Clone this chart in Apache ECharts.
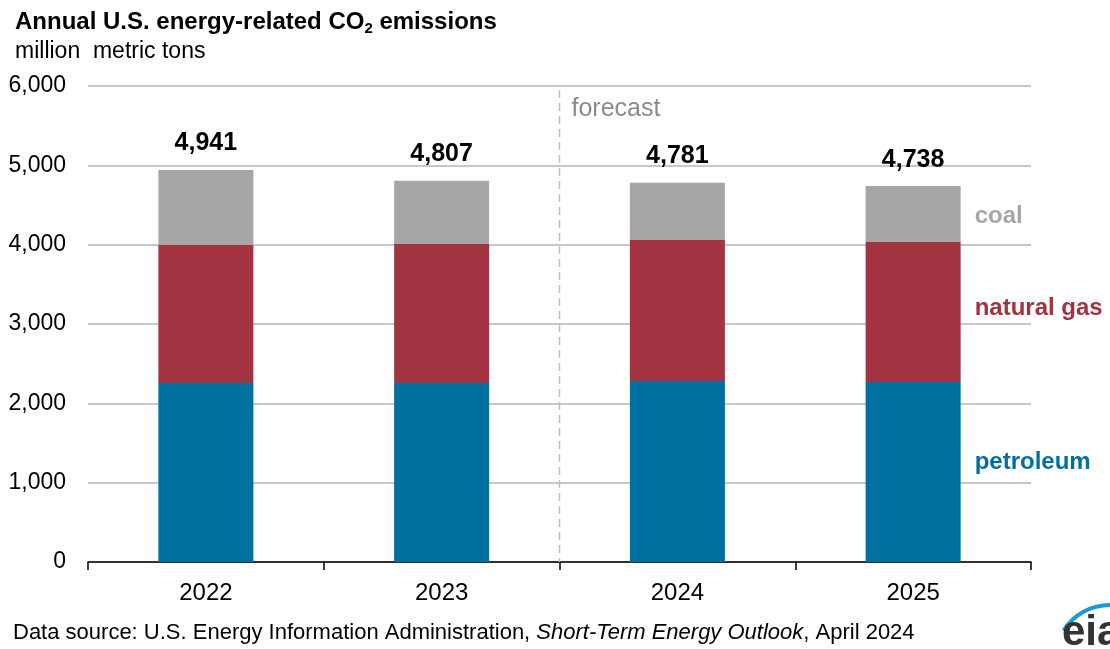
<!DOCTYPE html>
<html>
<head>
<meta charset="utf-8">
<script src="https://cdn.jsdelivr.net/npm/echarts@6/dist/echarts.min.js"></script>
<style>
  html, body { margin: 0; padding: 0; background: #fff; }
  #main { width: 1110px; height: 649px; }
</style>
</head>
<body>
<div id="main"></div>
<script>
// values (million metric tons)
var years = ['2022', '2023', '2024', '2025'];
var petroleum = [2256, 2256, 2282, 2269];
var naturalGas = [1740, 1752, 1777, 1765];
var coal = [945, 799, 722, 704];
var totals = [4941, 4807, 4781, 4738];

var font = '"Liberation Sans", Arial, sans-serif';
var chartDom = document.getElementById('main');
var myChart = echarts.init(chartDom);

// series label only on the last bar, to act as the legend on the right
function endLabel(color, dy) {
  return {
    show: true,
    position: 'right',
    distance: 14,
    offset: [0, dy],
    fontFamily: font,
    fontSize: 24,
    fontWeight: 'bold',
    color: color,
    formatter: function (p) {
      return p.dataIndex === years.length - 1 ? p.seriesName : '';
    }
  };
}

var option = {
  animation: false,
  textStyle: { fontFamily: font },
  title: [
    {
      text: 'Annual U.S. energy-related CO{sub|2} emissions',
      left: 10, top: 4,
      textStyle: {
        fontFamily: font, fontSize: 24, fontWeight: 'bold', color: '#000',
        rich: { sub: { fontFamily: font, fontSize: 15, fontWeight: 'bold', verticalAlign: 'bottom', padding: [12, 0, 0, 0], color: '#000' } }
      }
    },
    {
      text: 'million  metric tons',
      left: 10, top: 35,
      textStyle: { fontFamily: font, fontSize: 23, fontWeight: 'normal', color: '#000' }
    },
    {
      text: 'Data source: U.S. Energy Information Administration, {i|Short-Term Energy Outlook}, April 2024',
      left: 8, top: 617,
      textStyle: {
        fontFamily: font, fontSize: 22, fontWeight: 'normal', color: '#000',
        rich: { i: { fontFamily: font, fontSize: 22, fontStyle: 'italic', color: '#000' } }
      }
    }
  ],
  grid: { left: 88, right: 79, top: 86, bottom: 87 },
  xAxis: {
    type: 'category',
    data: years,
    axisLine: { lineStyle: { color: '#000', width: 1.5 } },
    axisTick: { show: true, length: 8, lineStyle: { color: '#000', width: 1.5 } },
    axisLabel: { margin: 19, fontSize: 24, color: '#000', fontFamily: font }
  },
  yAxis: {
    type: 'value',
    min: 0, max: 6000, interval: 1000,
    axisLine: { show: false },
    axisTick: { show: false },
    splitLine: { lineStyle: { color: '#c8c8c8', width: 2 } },
    axisLabel: {
      margin: 22, fontSize: 23, color: '#000', fontFamily: font,
      formatter: function (v) { return v.toLocaleString('en-US'); }
    }
  },
  series: [
    {
      name: 'petroleum', type: 'bar', stack: 'total', barWidth: 95,
      itemStyle: { color: '#0070a0' },
      label: endLabel('#0070a0', -10),
      data: petroleum
    },
    {
      name: 'natural gas', type: 'bar', stack: 'total',
      itemStyle: { color: '#a33340' },
      label: endLabel('#a33340', -4),
      data: naturalGas
    },
    {
      name: 'coal', type: 'bar', stack: 'total',
      itemStyle: { color: '#a6a6a6' },
      label: endLabel('#a6a6a6', 2),
      data: coal
    },
    {
      name: 'total', type: 'bar', stack: 'total',
      itemStyle: { color: 'transparent' },
      label: {
        show: true, position: 'top', distance: 14,
        fontFamily: font, fontSize: 25, fontWeight: 'bold', color: '#000',
        formatter: function (p) { return totals[p.dataIndex].toLocaleString('en-US'); }
      },
      data: years.map(function () { return 0; })
    }
  ]
};

myChart.setOption(option);

// forecast divider halfway between the last actual year and the first forecast year
var xA = myChart.convertToPixel({ xAxisIndex: 0 }, years[1]);
var xB = myChart.convertToPixel({ xAxisIndex: 0 }, years[2]);
var xMid = (xA + xB) / 2;
var yTop = myChart.convertToPixel({ yAxisIndex: 0 }, 6000);
var yBot = myChart.convertToPixel({ yAxisIndex: 0 }, 0);

myChart.setOption({
  graphic: [
    {
      type: 'line', z: 10,
      shape: { x1: xMid, y1: yTop + 4, x2: xMid, y2: yBot },
      style: { stroke: '#bfbfbf', lineWidth: 1.5, lineDash: [8, 5] }
    },
    {
      type: 'text', z: 10,
      left: xMid + 12, top: yTop + 11,
      style: { text: 'forecast', fontFamily: font, fontSize: 25, fill: '#8c8c8c' }
    },
    {
      type: 'arc', z: 10,
      shape: { cx: 1110, cy: 660, r: 55, startAngle: -Math.PI * 0.82, endAngle: -Math.PI * 0.5 },
      style: { stroke: '#1a9ad6', lineWidth: 4, fill: null }
    },
    {
      type: 'text', z: 10,
      left: 1062, top: 612,
      style: { text: 'eia', fontFamily: font, fontSize: 42, fontWeight: 'bold', fill: '#333' }
    }
  ]
});
</script>
</body>
</html>
